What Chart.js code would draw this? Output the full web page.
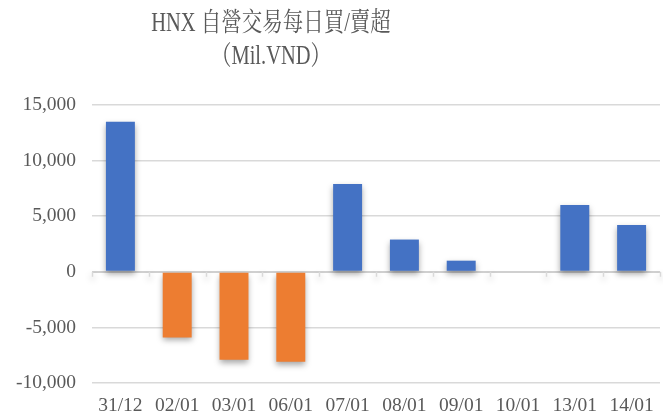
<!DOCTYPE html>
<html>
<head>
<meta charset="utf-8">
<script src="https://cdn.jsdelivr.net/npm/chart.js@4/dist/chart.umd.min.js"></script>
<style>
  html, body { margin: 0; padding: 0; background: #fff; overflow: hidden; }
  #wrap { position: relative; width: 663px; height: 418px; }
  #hnxChart { position: absolute; left: 0; top: 0; }
  #title {
    position: absolute; left: 0; top: 6px; width: 542px;
    text-align: center; color: #595959;
    font-family: "Liberation Serif", "Noto Serif CJK TC", "Noto Sans CJK TC", serif;
    font-size: 20.5px; line-height: 25.5px;
    transform: scaleY(1.3); transform-origin: 50% 0;
  }
</style>
</head>
<body>
<div id="wrap">
  <canvas id="hnxChart" width="663" height="418"></canvas>
  <div id="title"></div>
</div>
<script>
const days = ['31/12', '02/01', '03/01', '06/01', '07/01', '08/01', '09/01', '10/01', '13/01', '14/01'];
const netValues = [13500, -5900, -7900, -8100, 7900, 2900, 1000, 0, 6000, 4200];
const titleLines = ['HNX 自營交易每日買/賣超', '（Mil.VND）'];

document.getElementById('title').innerHTML = titleLines.join('<br>');

const serif = '"Liberation Serif", "Noto Serif CJK TC", "Noto Sans CJK TC", serif';

// shadow under the bars
const barShadow = {
    id: 'barShadow',
    beforeDatasetsDraw(chart) {
        const ctx = chart.ctx;
        ctx.save();
        ctx.shadowColor = 'rgba(0,0,0,0.35)';
        ctx.shadowBlur = 6;
        ctx.shadowOffsetY = 3;
    },
    afterDatasetsDraw(chart) {
        chart.ctx.restore();
    }
};

// small tick marks on the zero line between categories
const zeroTicks = {
    id: 'zeroTicks',
    beforeDatasetsDraw(chart) {
        const ctx = chart.ctx;
        const x = chart.scales.x;
        const y0 = chart.scales.y.getPixelForValue(0);
        const step = x.width / days.length;
        ctx.save();
        ctx.strokeStyle = '#d9d9d9';
        ctx.lineWidth = 1.5;
        ctx.beginPath();
        for (let i = 0; i <= days.length; i++) {
            const px = Math.round(x.left + i * step) + 0.5;
            ctx.moveTo(px, y0);
            ctx.lineTo(px, y0 + 5);
        }
        ctx.stroke();
        ctx.restore();
    }
};

new Chart(document.getElementById('hnxChart').getContext('2d'), {
    type: 'bar',
    data: {
        labels: days,
        datasets: [{
            label: 'Net',
            data: netValues,
            backgroundColor: netValues.map(v => v >= 0 ? '#4472C4' : '#ED7D31'),
            barPercentage: 0.51,
            categoryPercentage: 1
        }]
    },
    options: {
        responsive: false,
        animation: false,
        layout: { padding: { left: 16, right: 3, top: 105, bottom: 0 } },
        plugins: {
            legend: { display: false },
            tooltip: { enabled: false },
            title: { display: false }
        },
        scales: {
            x: {
                grid: { display: false, drawTicks: false },
                border: { display: false },
                ticks: {
                    color: '#595959',
                    font: { family: serif, size: 19.5 },
                    padding: 11,
                    maxRotation: 0,
                    autoSkip: false
                },
                afterFit: s => { s.height = 35; s.paddingLeft = 0; s.paddingRight = 0; }
            },
            y: {
                min: -10000,
                max: 15000,
                border: { display: false },
                grid: {
                    color: ctx => ctx.tick && ctx.tick.value === 0 ? '#d0d0d0' : '#d9d9d9',
                    lineWidth: ctx => ctx.tick && ctx.tick.value === 0 ? 2 : 1.5,
                    drawTicks: false
                },
                ticks: {
                    stepSize: 5000,
                    color: '#595959',
                    font: { family: serif, size: 19.5 },
                    padding: 16,
                    callback: v => v.toLocaleString('en-US')
                },
                afterFit: s => { s.width = 76; s.paddingTop = 0; s.paddingBottom = 0; }
            }
        }
    },
    plugins: [barShadow, zeroTicks]
});
</script>
</body>
</html>
